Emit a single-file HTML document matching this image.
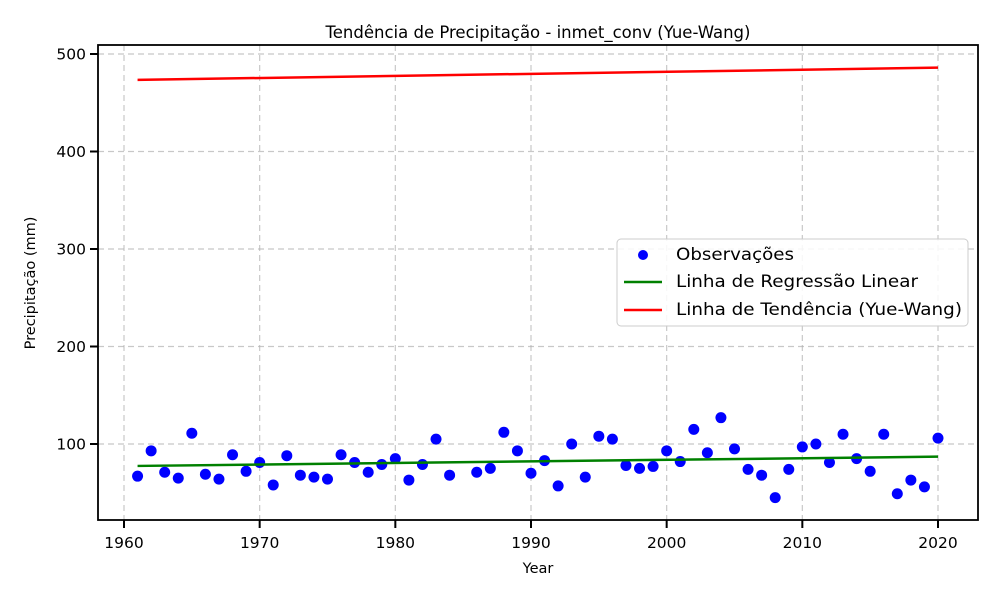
<!DOCTYPE html>
<html><head><meta charset="utf-8"><style>
body{margin:0;background:#fff;font-family:"Liberation Sans","DejaVu Sans",sans-serif}
svg text{font-family:"DejaVu Sans","Liberation Sans",sans-serif}
</style></head><body>
<svg id="chart" width="1000" height="600" xmlns="http://www.w3.org/2000/svg">
<rect width="1000" height="600" fill="#fff"/>
<g id="grid"></g>
<g id="marks"></g>
<g id="axes"></g>
<text x="538" y="38" font-size="16.5" text-anchor="middle">Tendência de Precipitação - inmet_conv (Yue-Wang)</text>
<text x="538" y="573" font-size="14.5" text-anchor="middle">Year</text>
<text x="35" y="283" font-size="14.5" text-anchor="middle" transform="rotate(-90 35 283)">Precipitação (mm)</text>
<g>
<rect x="617" y="239" width="351" height="87" rx="4" fill="#fff" fill-opacity="0.85" stroke="#ccc"/>
<circle cx="643" cy="255" r="5" fill="#0000ff"/>
<text x="676" y="260" font-size="17" textLength="118" lengthAdjust="spacingAndGlyphs">Observações</text>
<line x1="624" y1="282" x2="662" y2="282" stroke="#008000" stroke-width="2.5"/>
<text x="676" y="287" font-size="17" textLength="242" lengthAdjust="spacingAndGlyphs">Linha de Regressão Linear</text>
<line x1="624" y1="310" x2="662" y2="310" stroke="#ff0000" stroke-width="2.5"/>
<text x="676" y="315" font-size="17" textLength="286" lengthAdjust="spacingAndGlyphs">Linha de Tendência (Yue-Wang)</text>
</g>
</svg>
<script>
const years=[1961,1962,1963,1964,1965,1966,1967,1968,1969,1970,1971,1972,1973,1974,1975,1976,1977,1978,1979,1980,1981,1982,1983,1984,1986,1987,1988,1989,1990,1991,1992,1993,1994,1995,1996,1997,1998,1999,2000,2001,2002,2003,2004,2005,2006,2007,2008,2009,2010,2011,2012,2013,2014,2015,2016,2017,2018,2019,2020];
const precip=[67,93,71,65,111,69,64,89,72,81,58,88,68,66,64,89,81,71,79,85,63,79,105,68,71,75,112,93,70,83,57,100,66,108,105,78,75,77,93,82,115,91,127,95,74,68,45,74,97,100,81,110,85,72,110,49,63,56,106];
const regYears=[1961,2020];
const regValues=[77.5,87];
const trendYears=[1961,2020];
const trendValues=[473.5,486];
const xTicks=[1960,1970,1980,1990,2000,2010,2020];
const yTicks=[100,200,300,400,500];
const NS="http://www.w3.org/2000/svg";
const X0=98,X1=978,Y0=45,Y1=520;
function xs(v){return 124+(v-1960)*(938-124)/60;}
function ys(v){return 444-(v-100)*(444-54)/400;}
function mk(tag,attrs,parent){const e=document.createElementNS(NS,tag);for(const k in attrs)e.setAttribute(k,attrs[k]);parent.appendChild(e);return e;}
const grid=document.getElementById('grid'),marks=document.getElementById('marks'),axes=document.getElementById('axes');
xTicks.forEach(t=>{
 const g=mk('line',{x1:xs(t),x2:xs(t),y1:Y0,y2:Y1,stroke:'#b0b0b0','stroke-width':1.2,'stroke-dasharray':'6,4','stroke-opacity':0.7},grid);
 
 
 mk('line',{x1:xs(t),x2:xs(t),y1:Y1,y2:Y1+8,stroke:'#000','stroke-width':2},axes);
 const tx=mk('text',{x:xs(t),y:Y1+28,'font-size':15.5,'text-anchor':'middle'},axes);tx.textContent=t;
 
 
});
yTicks.forEach(t=>{
 const g=mk('line',{x1:X0,x2:X1,y1:ys(t),y2:ys(t),stroke:'#b0b0b0','stroke-width':1.2,'stroke-dasharray':'6,4','stroke-opacity':0.7},grid);
 
 
 mk('line',{x1:X0-8,x2:X0,y1:ys(t),y2:ys(t),stroke:'#000','stroke-width':2},axes);
 const tx=mk('text',{x:X0-12,y:ys(t)+5.5,'font-size':15.5,'text-anchor':'end'},axes);tx.textContent=t;
 
 
});
const frame=mk('rect',{x:X0,y:Y0,width:X1-X0,height:Y1-Y0,fill:'none',stroke:'#000','stroke-width':1.8},axes);


years.forEach((y,i)=>{
 const c=mk('circle',{cx:xs(y),cy:ys(precip[i]),r:5.5,fill:'#0000ff'},marks);
 
 
});
const reg=mk('line',{x1:xs(regYears[0]),x2:xs(regYears[1]),y1:ys(regValues[0]),y2:ys(regValues[1]),stroke:'#008000','stroke-width':2.5},marks);


const tr=mk('line',{x1:xs(trendYears[0]),x2:xs(trendYears[1]),y1:ys(trendValues[0]),y2:ys(trendValues[1]),stroke:'#ff0000','stroke-width':2.5},marks);


</script>
</body></html>
